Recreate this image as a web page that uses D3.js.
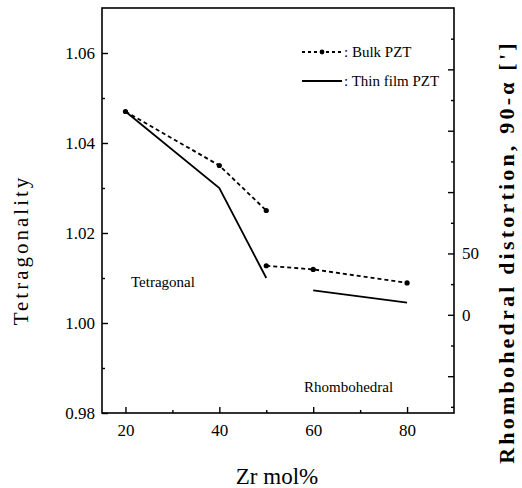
<!DOCTYPE html>
<html><head><meta charset="utf-8">
<script src="https://cdn.jsdelivr.net/npm/d3@7"></script>
<style>body{margin:0;background:#fff}svg{display:block}</style>
</head><body><div id="c"></div>
<script>
// Data
const bulkTetX = [20, 40, 50];
const bulkTetY = [1.047, 1.035, 1.025];
const bulkRhoX = [50, 60, 80];
const bulkRhoY = [40, 37, 26];
const filmTetX = [20, 40, 50];
const filmTetY = [1.047, 1.030, 1.010];
const filmRhoX = [60, 80];
const filmRhoY = [20, 10];
const xTicks = [20, 40, 60, 80];
const xMinor = [30, 50, 70];
const yTicks = [0.98, 1.00, 1.02, 1.04, 1.06];
const yMinor = [0.99, 1.01, 1.03, 1.05];
const y2Major = [-50, 0, 50, 100, 150, 200];
const y2Labels = [0, 50];
const y2Minor = [-75, -25, 25, 75, 125, 175, 225];

const FONT = "Liberation Serif";
const W = 522, H = 488;
const L = 102, R = 454, T = 8, B = 413;
const svg = d3.select("#c").append("svg").attr("width", W).attr("height", H);
const x = d3.scaleLinear().domain([15, 90]).range([L, R]);
const y = d3.scaleLinear().domain([0.98, 1.07]).range([B, T]);
const y2 = d3.scaleLinear().domain([-80, 250]).range([B, T]);

// frame
svg.append("rect").attr("x", L).attr("y", T).attr("width", R - L).attr("height", B - T)
  .attr("fill", "none").attr("stroke", "#000").attr("stroke-width", 1.6);

function styleAxis(g) {
  g.attr("font-family", FONT);
  g.select(".domain").remove();
  g.selectAll("text").attr("font-family", FONT).attr("font-size", 17).attr("fill", "#000");
  g.selectAll(".tick line").attr("stroke-width", 1.4);
}

// bottom axis
svg.append("g").attr("transform", `translate(0,${B})`)
  .call(d3.axisBottom(x).tickValues(xTicks).tickSize(-6).tickPadding(11).tickFormat(d3.format("d")))
  .call(styleAxis);
svg.append("g").attr("transform", `translate(0,${B})`)
  .call(d3.axisBottom(x).tickValues(xMinor).tickSize(-3).tickFormat(""))
  .call(styleAxis);

// left axis
svg.append("g").attr("transform", `translate(${L},0)`)
  .call(d3.axisLeft(y).tickValues(yTicks).tickSize(-6).tickPadding(7).tickFormat(d3.format(".2f")))
  .call(styleAxis);
svg.append("g").attr("transform", `translate(${L},0)`)
  .call(d3.axisLeft(y).tickValues(yMinor).tickSize(-3).tickFormat(""))
  .call(styleAxis);

// right axis
svg.append("g").attr("transform", `translate(${R},0)`)
  .call(d3.axisRight(y2).tickValues(y2Major).tickSize(-6).tickPadding(8)
    .tickFormat(d => y2Labels.includes(d) ? d3.format("d")(d) : ""))
  .call(styleAxis);
svg.append("g").attr("transform", `translate(${R},0)`)
  .call(d3.axisRight(y2).tickValues(y2Minor).tickSize(-3).tickFormat(""))
  .call(styleAxis);

// lines
const zip = (a, b) => a.map((v, i) => [v, b[i]]);
const line1 = d3.line().x(d => x(d[0])).y(d => y(d[1]));
const line2 = d3.line().x(d => x(d[0])).y(d => y2(d[1]));
const dash = "4,3";
svg.append("path").attr("d", line1(zip(filmTetX, filmTetY))).attr("fill", "none").attr("stroke", "#000").attr("stroke-width", 1.8);
svg.append("path").attr("d", line2(zip(filmRhoX, filmRhoY))).attr("fill", "none").attr("stroke", "#000").attr("stroke-width", 1.8);
svg.append("path").attr("d", line1(zip(bulkTetX, bulkTetY))).attr("fill", "none").attr("stroke", "#000").attr("stroke-width", 1.8).attr("stroke-dasharray", dash);
svg.append("path").attr("d", line2(zip(bulkRhoX, bulkRhoY))).attr("fill", "none").attr("stroke", "#000").attr("stroke-width", 1.8).attr("stroke-dasharray", dash);
svg.selectAll("circle.a").data(zip(bulkTetX, bulkTetY)).join("circle")
  .attr("cx", d => x(d[0])).attr("cy", d => y(d[1])).attr("r", 2.6).attr("fill", "#000");
svg.selectAll("circle.b").data(zip(bulkRhoX, bulkRhoY)).join("circle")
  .attr("cx", d => x(d[0])).attr("cy", d => y2(d[1])).attr("r", 2.6).attr("fill", "#000");

function txt(xp, yp, s, size, extra) {
  const t = svg.append("text").attr("x", xp).attr("y", yp).attr("font-family", FONT)
    .attr("font-size", size).attr("fill", "#000").text(s);
  if (extra) extra(t);
  return t;
}

// legend
svg.append("line").attr("x1", 302).attr("x2", 342).attr("y1", 52).attr("y2", 52).attr("stroke", "#000").attr("stroke-width", 1.8).attr("stroke-dasharray", "3,3");
svg.append("circle").attr("cx", 322).attr("cy", 52).attr("r", 2.4).attr("fill", "#000");
txt(344, 57, ": Bulk PZT", 15);
svg.append("line").attr("x1", 302).attr("x2", 342).attr("y1", 81).attr("y2", 81).attr("stroke", "#000").attr("stroke-width", 1.8);
txt(344, 86, ": Thin film PZT", 15);

// region labels
txt(131, 287, "Tetragonal", 15);
txt(304, 392, "Rhombohedral", 15);

// axis titles
txt(277, 484, "Zr mol%", 23, t => t.attr("text-anchor", "middle"));
txt(0, 0, "Tetragonality", 21, t => t.attr("text-anchor", "middle").attr("letter-spacing", 3)
  .attr("transform", "translate(28,250) rotate(-90)"));
txt(0, 0, "Rhombohedral distortion, 90-\u03b1 [']", 22, t => t.attr("text-anchor", "middle")
  .attr("font-weight", "bold").attr("letter-spacing", 3.2)
  .attr("transform", "translate(514,252) rotate(-90)"));
</script>
</body></html>
